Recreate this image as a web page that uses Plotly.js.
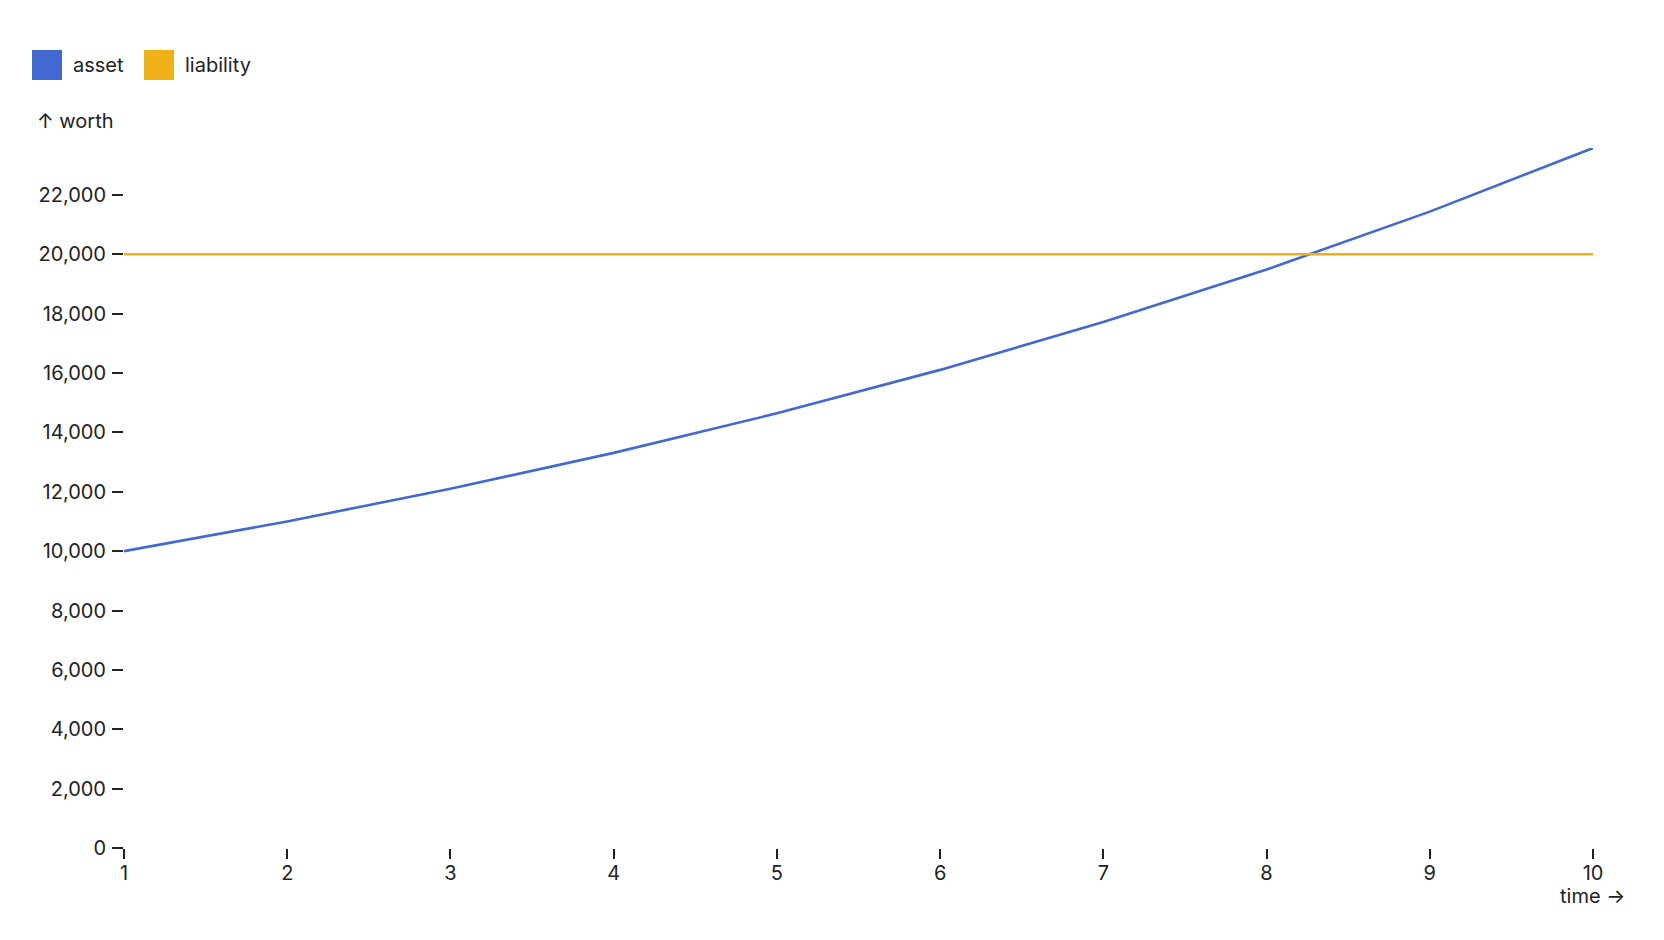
<!DOCTYPE html>
<html>
<head>
<meta charset="utf-8">
<script src="https://cdn.plot.ly/plotly-3.0.1.min.js"></script>
<style>
  html, body { margin: 0; padding: 0; background: #fff; }
  #chart { width: 1664px; height: 940px; }
</style>
</head>
<body>
<div id="chart"></div>
<script>
// data
var time = [1, 2, 3, 4, 5, 6, 7, 8, 9, 10];
var asset = [10000, 11000, 12100, 13310, 14641, 16105, 17716, 19487, 21436, 23579];
var liability = [20000, 20000, 20000, 20000, 20000, 20000, 20000, 20000, 20000, 20000];
var seriesNames = ["asset", "liability"];
var seriesColors = ["#4269d0", "#efb118"];
var yTicks = [0, 2000, 4000, 6000, 8000, 10000, 12000, 14000, 16000, 18000, 20000, 22000];

var W = 1664, H = 940;
var M = {l: 124, r: 71, t: 148, b: 92};
var pw = W - M.l - M.r, ph = H - M.t - M.b;
// pixel -> paper helpers for the legend and axis labels
function px(x) { return (x - M.l) / pw; }
function py(y) { return (H - M.b - y) / ph; }

var font = "Inter, 'Noto Sans', sans-serif";
var fsize = 20;
var textColor = "#222";

var traces = [
  {x: time, y: asset, name: seriesNames[0], type: "scatter", mode: "lines",
   line: {color: seriesColors[0], width: 2.6}, showlegend: false},
  {x: time, y: liability, name: seriesNames[1], type: "scatter", mode: "lines",
   line: {color: seriesColors[1], width: 2.6}, showlegend: false}
];

// swatch legend drawn by hand (plotly caps legend marker size)
var swatchX = [32, 144];
var shapes = [];
var annotations = [];
for (var i = 0; i < seriesNames.length; i++) {
  shapes.push({type: "rect", xref: "paper", yref: "paper",
    x0: px(swatchX[i]), x1: px(swatchX[i] + 30), y0: py(80), y1: py(50),
    fillcolor: seriesColors[i], line: {width: 0}});
  annotations.push({xref: "paper", yref: "paper", x: px(swatchX[i] + 39), y: py(65),
    xanchor: "left", yanchor: "middle", showarrow: false, text: seriesNames[i],
    font: {family: font, size: fsize, color: textColor}});
}
annotations.push({xref: "paper", yref: "paper", x: px(35), y: py(121),
  xanchor: "left", yanchor: "middle", showarrow: false, text: "↑ worth",
  font: {family: font, size: fsize, color: textColor}});
annotations.push({xref: "paper", yref: "paper", x: px(1627), y: py(896),
  xanchor: "right", yanchor: "middle", showarrow: false, text: "time →",
  font: {family: font, size: fsize, color: textColor}});

var layout = {
  width: W, height: H,
  margin: M,
  paper_bgcolor: "#fff", plot_bgcolor: "#fff",
  font: {family: font, size: fsize, color: textColor},
  showlegend: false,
  xaxis: {
    range: [1, 10], tickvals: time, ticks: "outside", ticklen: 10, tickwidth: 2,
    tickcolor: "#222", showgrid: false, zeroline: false, showline: false,
    ticklabelstandoff: -3,
    tickfont: {family: font, size: fsize, color: textColor}
  },
  yaxis: {
    range: [0, 23579], tickvals: yTicks, tickformat: ",d", ticks: "outside", ticklen: 11,
    tickwidth: 2, tickcolor: "#222", showgrid: false, zeroline: false, showline: false,
    ticklabelstandoff: 2,
    tickfont: {family: font, size: fsize, color: textColor}
  },
  shapes: shapes,
  annotations: annotations
};

Plotly.newPlot("chart", traces, layout, {displayModeBar: false, staticPlot: true});
</script>
</body>
</html>
